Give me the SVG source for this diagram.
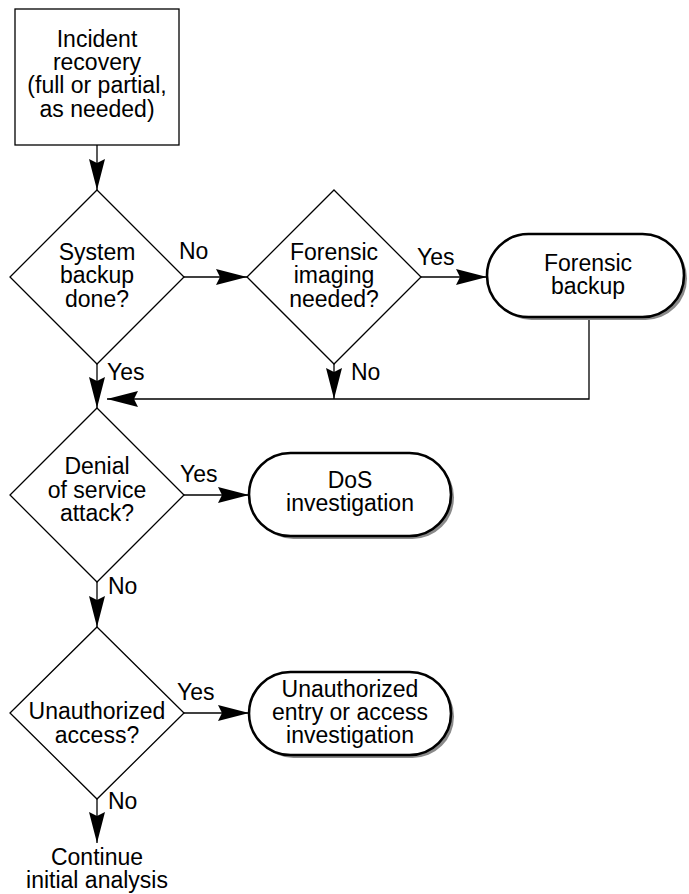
<svg xmlns="http://www.w3.org/2000/svg" width="689" height="894" viewBox="0 0 689 894">
<style>
text{font-family:"Liberation Sans",Arial,sans-serif;font-size:23px;fill:#000}
.c{text-anchor:middle}
.box{fill:#fff;stroke:#000;stroke-width:1.3}
.pill{fill:#fff;stroke:#000;stroke-width:2.6}
.shadow{fill:#8a8a8a;stroke:none}
.line{fill:none;stroke:#000;stroke-width:1.3}
</style>
<defs>
<marker id="ah" markerUnits="userSpaceOnUse" viewBox="0 0 31 16" refX="31" refY="8" markerWidth="31" markerHeight="16" orient="auto">
<path d="M0,0 L31,8 L0,16 L4,8 z" fill="#000"/>
</marker>
</defs>
<rect width="689" height="894" fill="#fff"/>
<g id="connectors">
<path class="line" d="M97,145 V190" marker-end="url(#ah)"/>
<path class="line" d="M183,277 H247" marker-end="url(#ah)"/>
<path class="line" d="M421,277 H487" marker-end="url(#ah)"/>
<path class="line" d="M97,363 V408" marker-end="url(#ah)"/>
<path class="line" d="M334,363 V399" marker-end="url(#ah)"/>
<path class="line" d="M589,317 V399 H107" marker-end="url(#ah)"/>
<path class="line" d="M183,495 H249" marker-end="url(#ah)"/>
<path class="line" d="M97,582 V627" marker-end="url(#ah)"/>
<path class="line" d="M183,713 H249" marker-end="url(#ah)"/>
<path class="line" d="M97,799 V843" marker-end="url(#ah)"/>
<text x="179" y="259">No</text>
<text x="107" y="380">Yes</text>
<text x="417" y="265">Yes</text>
<text x="351" y="380">No</text>
<text x="180" y="482">Yes</text>
<text x="108" y="594">No</text>
<text x="177" y="700">Yes</text>
<text x="108" y="809">No</text>
</g>
<g id="recovery">
<rect class="box" x="15" y="9" width="164" height="136"/>
<text class="c" x="97" y="47">Incident</text>
<text class="c" x="97" y="70">recovery</text>
<text class="c" x="97" y="93">(full or partial,</text>
<text class="c" x="97" y="117">as needed)</text>
</g>
<g id="backup-done">
<polygon class="box" points="97,190 184,277 97,364 10,277"/>
<text class="c" x="97" y="260">System</text>
<text class="c" x="97" y="283">backup</text>
<text class="c" x="97" y="307">done?</text>
</g>
<g id="imaging-needed">
<polygon class="box" points="334,190 421,277 334,364 247,277"/>
<text class="c" x="334" y="260">Forensic</text>
<text class="c" x="334" y="283">imaging</text>
<text class="c" x="334" y="307">needed?</text>
</g>
<g id="forensic-backup">
<rect class="shadow" x="490" y="237" width="197" height="83" rx="41.5"/>
<rect class="pill" x="487" y="234" width="197" height="83" rx="41.5"/>
<text class="c" x="588" y="271">Forensic</text>
<text class="c" x="588" y="294">backup</text>
</g>
<g id="dos-attack">
<polygon class="box" points="97,408 184,495 97,582 10,495"/>
<text class="c" x="97" y="474">Denial</text>
<text class="c" x="97" y="498">of service</text>
<text class="c" x="97" y="521">attack?</text>
</g>
<g id="dos-investigation">
<rect class="shadow" x="252" y="456" width="202" height="83" rx="41.5"/>
<rect class="pill" x="249" y="453" width="202" height="83" rx="41.5"/>
<text class="c" x="350" y="488">DoS</text>
<text class="c" x="350" y="511">investigation</text>
</g>
<g id="unauthorized-access">
<polygon class="box" points="97,627 184,713 97,799 10,713"/>
<text class="c" x="97" y="719">Unauthorized</text>
<text class="c" x="97" y="743">access?</text>
</g>
<g id="unauthorized-investigation">
<rect class="shadow" x="252" y="675" width="202" height="83" rx="41.5"/>
<rect class="pill" x="249" y="672" width="202" height="83" rx="41.5"/>
<text class="c" x="350" y="697">Unauthorized</text>
<text class="c" x="350" y="720">entry or access</text>
<text class="c" x="350" y="743">investigation</text>
</g>
<g id="continue">
<text class="c" x="97" y="865">Continue</text>
<text class="c" x="97" y="888">initial analysis</text>
</g>
</svg>
